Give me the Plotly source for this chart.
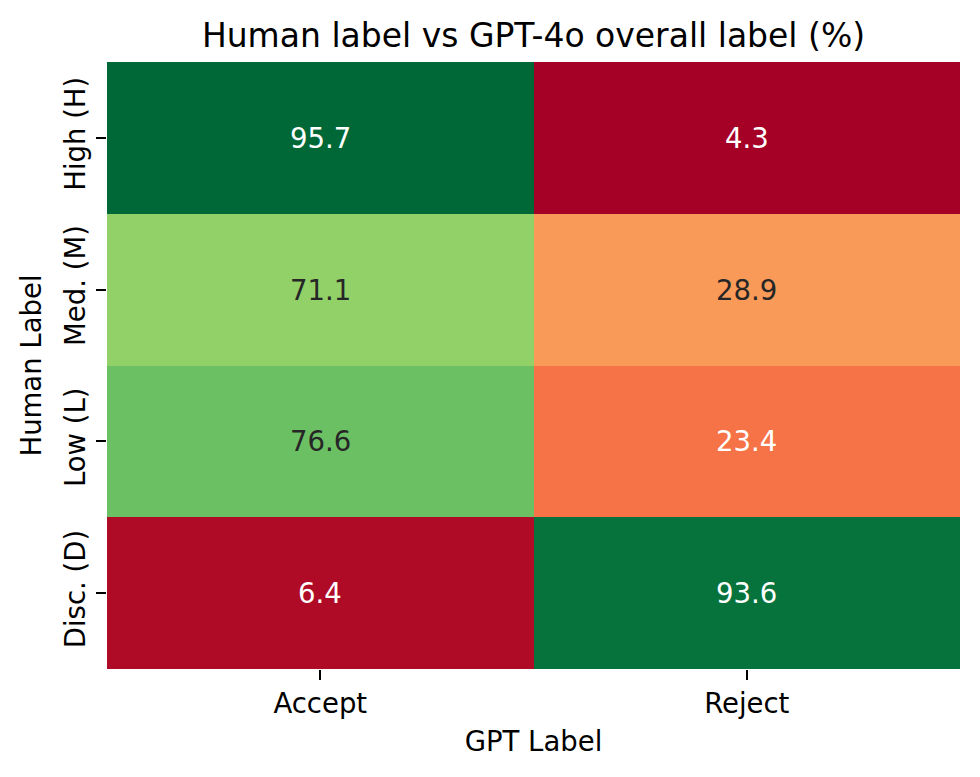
import plotly.graph_objects as go

gpt_labels = ["Accept", "Reject"]
human_labels = ["High (H)", "Med. (M)", "Low (L)", "Disc. (D)"]
accept_pct = [95.7, 71.1, 76.6, 6.4]
reject_pct = [4.3, 28.9, 23.4, 93.6]

z = [[a, r] for a, r in zip(accept_pct, reject_pct)]

rdylgn = ["#a50026", "#d73027", "#f46d43", "#fdae61", "#fee08b", "#ffffbf",
          "#d9ef8b", "#a6d96a", "#66bd63", "#1a9850", "#006837"]
colorscale = [[i / (len(rdylgn) - 1), c] for i, c in enumerate(rdylgn)]

vals = accept_pct + reject_pct
vmin, vmax = min(vals), max(vals)


def hex_to_rgb(h):
    h = h.lstrip("#")
    return tuple(int(h[i:i + 2], 16) / 255 for i in (0, 2, 4))


def color_at(v):
    t = (v - vmin) / (vmax - vmin)
    pos = t * (len(rdylgn) - 1)
    i = min(int(pos), len(rdylgn) - 2)
    f = pos - i
    c0, c1 = hex_to_rgb(rdylgn[i]), hex_to_rgb(rdylgn[i + 1])
    return tuple(a + (b - a) * f for a, b in zip(c0, c1))


def luminance(rgb):
    def lin(c):
        return c / 12.92 if c <= 0.03928 else ((c + 0.055) / 1.055) ** 2.4
    r, g, b = (lin(c) for c in rgb)
    return 0.2126 * r + 0.7152 * g + 0.0722 * b


FS = 27.5

fig = go.Figure(go.Heatmap(
    z=z, x=gpt_labels, y=human_labels,
    colorscale=colorscale, zmin=vmin, zmax=vmax,
    showscale=False, xgap=0, ygap=0, hoverinfo="skip",
))

annotations = []
for yi, hl in enumerate(human_labels):
    for xi, gl in enumerate(gpt_labels):
        v = z[yi][xi]
        col = "#262626" if luminance(color_at(v)) > 0.408 else "white"
        annotations.append(dict(x=gl, y=hl, text=f"{v:.1f}", showarrow=False,
                                font=dict(family="DejaVu Sans", size=FS, color=col)))

fig.update_layout(
    width=980, height=777,
    margin=dict(l=107, r=20, t=62, b=108),
    paper_bgcolor="white", plot_bgcolor="white",
    font=dict(family="DejaVu Sans", size=FS, color="black"),
    title=dict(text="Human label vs GPT-4o overall label (%)", x=0.5, xanchor="center",
               xref="paper", y=1 - 35 / 777, yanchor="middle",
               font=dict(family="DejaVu Sans", size=33, color="black")),
    annotations=annotations,
    xaxis=dict(title=dict(text="GPT Label", font=dict(size=FS), standoff=13),
               ticks="outside", ticklen=10, tickwidth=1.5, tickcolor="black",
               showgrid=False, zeroline=False, showline=False,
               tickfont=dict(size=FS)),
    yaxis=dict(title=dict(text="Human Label", font=dict(size=FS), standoff=9),
               autorange="reversed", ticks="outside", ticklen=10, tickwidth=1.5,
               tickcolor="black", showgrid=False, zeroline=False, showline=False,
               tickangle=-90, tickfont=dict(size=FS)),
)

fig.write_html("out.html")
